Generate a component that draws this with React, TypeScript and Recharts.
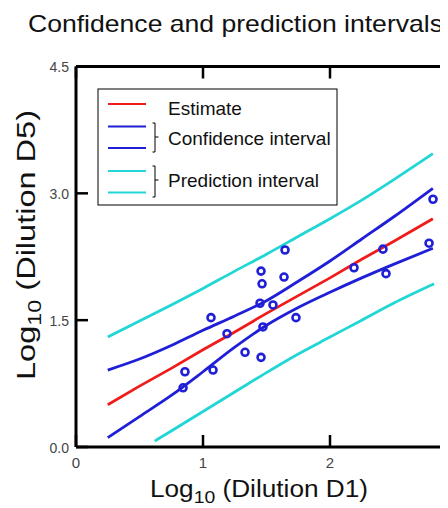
import React from "react";
import { ComposedChart, Line, Scatter, XAxis, YAxis } from "recharts";

// ---- data ----
const xGrid = [0.25, 0.5, 0.75, 1.0, 1.25, 1.5, 1.75, 2.0, 2.25, 2.5, 2.81];
const estimate = [0.5, 0.72, 0.93, 1.15, 1.36, 1.58, 1.79, 2.0, 2.22, 2.43, 2.7];
const confUpper = [0.91, 1.04, 1.2, 1.38, 1.55, 1.73, 1.96, 2.2, 2.46, 2.72, 3.06];
const confLower = [0.11, 0.36, 0.61, 0.89, 1.18, 1.44, 1.65, 1.83, 2.0, 2.16, 2.35];
const predUpper = [1.3, 1.49, 1.68, 1.875, 2.08, 2.28, 2.49, 2.7, 2.92, 3.16, 3.47];
const predLowerX = [0.62, 0.75, 1.0, 1.25, 1.5, 1.75, 2.0, 2.25, 2.5, 2.82];
const predLower = [0.07, 0.19, 0.42, 0.65, 0.88, 1.1, 1.3, 1.5, 1.7, 1.93];

const obsX = [1.646, 1.457, 1.638, 1.465, 1.449, 1.551, 1.063, 1.732, 1.189, 1.472, 1.331, 1.457, 0.858, 1.079, 0.843, 2.189, 2.811, 2.417, 2.441, 2.78];
const obsY = [2.33, 2.08, 2.01, 1.93, 1.7, 1.68, 1.53, 1.53, 1.34, 1.42, 1.12, 1.06, 0.89, 0.91, 0.7, 2.12, 2.93, 2.34, 2.05, 2.41];

const xTicks = [0, 1, 2, 3];
const xTickLabels = ["0", "1", "2", ""];
const yTicks = [0, 1.5, 3.0, 4.5];
const yTickLabels = ["0.0", "1.5", "3.0", "4.5"];

const title = "Confidence and prediction intervals";
const legendLabels = ["Estimate", "Confidence interval", "Prediction interval"];

// ---- styles ----
const RED = "#f01c1c";
const BLUE = "#1f1fd8";
const CYAN = "#22d6d6";
const FONT = "'Liberation Sans', Arial, Helvetica, sans-serif";
const TICK_COLOR = "#444";

const bandRows = xGrid.map((x, i) => ({
  x,
  est: estimate[i],
  cu: confUpper[i],
  cl: confLower[i],
  pu: predUpper[i],
}));
const predLowerRows = predLowerX.map((x, i) => ({ x, pl: predLower[i] }));
const obsRows = obsX.map((x, i) => ({ x, y: obsY[i] }));

const labelFor = (v: number, ticks: number[], labels: string[]) => {
  const i = ticks.findIndex((t) => Math.abs(t - v) < 1e-9);
  return i >= 0 ? labels[i] : String(v);
};

const BottomTick = (p: any) => {
  const { x, y, payload } = p;
  const label = labelFor(payload.value, xTicks, xTickLabels);
  return (
    <g>
      <line x1={x} y1={y} x2={x} y2={y - 12} stroke="#000" strokeWidth={2.5} />
      {label ? (
        <text x={x} y={y + 21} textAnchor="middle" fontSize={15} fill={TICK_COLOR} fontFamily={FONT}>
          {label}
        </text>
      ) : null}
    </g>
  );
};
const TopTick = (p: any) => {
  const { x, y } = p;
  return <line x1={x} y1={y} x2={x} y2={y + 12} stroke="#000" strokeWidth={2.5} />;
};
const LeftTick = (p: any) => {
  const { x, y, payload } = p;
  return (
    <g>
      <line x1={x} y1={y} x2={x + 12} y2={y} stroke="#000" strokeWidth={2.5} />
      <text x={x - 7} y={y + 5.5} textAnchor="end" fontSize={14} fill={TICK_COLOR} fontFamily={FONT}>
        {labelFor(payload.value, yTicks, yTickLabels)}
      </text>
    </g>
  );
};
const RightTick = (p: any) => {
  const { x, y } = p;
  return <line x1={x} y1={y} x2={x - 12} y2={y} stroke="#000" strokeWidth={2.5} />;
};

const ObsDot = (p: any) => (
  <circle cx={p.cx} cy={p.cy} r={3.5} fill="none" stroke={BLUE} strokeWidth={2.6} />
);

export default function App() {
  return (
    <div style={{ position: "relative", width: 440, height: 500, overflow: "hidden" }}>
      <ComposedChart
        width={470}
        height={500}
        data={bandRows}
        margin={{ top: 48.5, right: 11, bottom: 31, left: 0 }}
      >
        <XAxis
          dataKey="x"
          type="number"
          domain={[0, 3]}
          ticks={xTicks}
          allowDataOverflow
          height={30}
          tickSize={0}
          tickMargin={0}
          tickLine={false}
          tick={<BottomTick />}
          axisLine={{ stroke: "#000", strokeWidth: 3 }}
        />
        <XAxis
          xAxisId="top"
          orientation="top"
          dataKey="x"
          type="number"
          domain={[0, 3]}
          ticks={xTicks}
          allowDataOverflow
          height={10}
          tickSize={0}
          tickMargin={0}
          tickLine={false}
          tick={<TopTick />}
          axisLine={{ stroke: "#000", strokeWidth: 3 }}
        />
        <YAxis
          type="number"
          domain={[0, 4.5]}
          ticks={yTicks}
          allowDataOverflow
          width={68}
          tickSize={0}
          tickMargin={0}
          tickLine={false}
          tick={<LeftTick />}
          axisLine={{ stroke: "#000", strokeWidth: 3 }}
        />
        <YAxis
          yAxisId="right"
          orientation="right"
          type="number"
          domain={[0, 4.5]}
          ticks={yTicks}
          allowDataOverflow
          width={10}
          tickSize={0}
          tickMargin={0}
          tickLine={false}
          tick={<RightTick />}
          axisLine={{ stroke: "#000", strokeWidth: 3 }}
        />
        <Line dataKey="pu" type="monotone" stroke={CYAN} strokeWidth={2.8} dot={false} isAnimationActive={false} />
        <Line data={predLowerRows} dataKey="pl" type="monotone" stroke={CYAN} strokeWidth={2.8} dot={false} isAnimationActive={false} />
        <Line dataKey="cu" type="monotone" stroke={BLUE} strokeWidth={2.8} dot={false} isAnimationActive={false} />
        <Line dataKey="cl" type="monotone" stroke={BLUE} strokeWidth={2.8} dot={false} isAnimationActive={false} />
        <Line dataKey="est" type="linear" stroke={RED} strokeWidth={2.8} dot={false} isAnimationActive={false} />
        <Scatter data={obsRows} dataKey="y" shape={<ObsDot />} isAnimationActive={false} />
      </ComposedChart>

      <svg
        width={440}
        height={500}
        style={{ position: "absolute", left: 0, top: 0, pointerEvents: "none", overflow: "visible" }}
        fontFamily={FONT}
      >
        <text x={20} y={24} fontSize={24} fill="#111" textLength={415} lengthAdjust="spacingAndGlyphs">
          {title}
        </text>

        {/* x axis label */}
        <text x={142} y={489} fontSize={23} fill="#111" textLength={218} lengthAdjust="spacingAndGlyphs">
          Log<tspan fontSize={17} dy={6}>10</tspan>
          <tspan dy={-6}> (Dilution D1)</tspan>
        </text>

        {/* y axis label */}
        <text
          transform="translate(27,372) rotate(-90)"
          x={0}
          y={0}
          fontSize={25}
          fill="#111"
          textLength={270}
          lengthAdjust="spacingAndGlyphs"
        >
          Log<tspan fontSize={18} dy={6}>10</tspan>
          <tspan dy={-6}> (Dilution D5)</tspan>
        </text>

        {/* legend */}
        <rect x={90} y={81} width={239} height={116} fill="#fff" stroke="#000" strokeWidth={1} />
        <line x1={100} y1={96} x2={138} y2={96} stroke={RED} strokeWidth={1.8} />
        <line x1={100} y1={118.5} x2={138} y2={118.5} stroke={BLUE} strokeWidth={1.8} />
        <line x1={100} y1={140} x2={138} y2={140} stroke={BLUE} strokeWidth={1.8} />
        <line x1={100} y1={163} x2={138} y2={163} stroke={CYAN} strokeWidth={1.8} />
        <line x1={100} y1={184.5} x2={138} y2={184.5} stroke={CYAN} strokeWidth={1.8} />
        <path d="M144.5 115 H147 V144 H144.5 M147 129 H150.5" fill="none" stroke="#000" strokeWidth={1} />
        <path d="M144.5 158 H147 V189 H144.5 M147 172 H150.5" fill="none" stroke="#000" strokeWidth={1} />
        <text x={160} y={107} fontSize={19} fill="#111">{legendLabels[0]}</text>
        <text x={160} y={137} fontSize={19} fill="#111">{legendLabels[1]}</text>
        <text x={160} y={179} fontSize={19} fill="#111">{legendLabels[2]}</text>
      </svg>
    </div>
  );
}
